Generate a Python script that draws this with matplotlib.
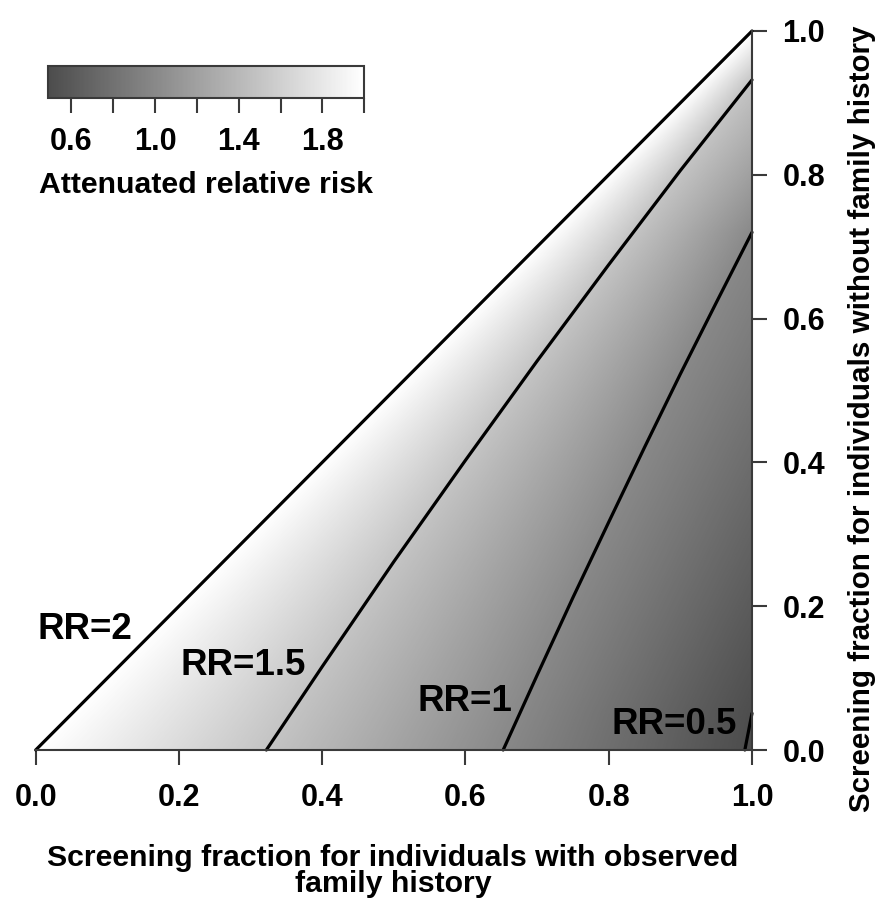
import numpy as np
import matplotlib
matplotlib.use('Agg')
import matplotlib.pyplot as plt
from matplotlib.colors import LinearSegmentedColormap, Normalize
from matplotlib.cm import ScalarMappable

plt.rcParams['font.family'] = ['Liberation Sans', 'DejaVu Sans']
plt.rcParams['font.weight'] = 'bold'

# contour lines (x = FH screening fraction, y = non-FH fraction)
rr2_x = [0.0, 1.0]
rr2_y = [0.0, 1.0]
rr15_x = [0.322, 0.40, 0.50, 0.60, 0.70, 0.80, 0.90, 1.0]
rr15_y = [0.0, 0.116, 0.262, 0.403, 0.541, 0.675, 0.806, 0.932]
rr1_x = [0.6526, 0.70, 0.75, 0.80, 0.85, 0.90, 0.95, 1.0]
rr1_y = [0.0, 0.104, 0.212, 0.317, 0.421, 0.523, 0.622, 0.72]
rr05_x = [0.99, 1.0]
rr05_y = [0.0, 0.051]

# attenuated RR along the right edge (x = 1)
edge_y = [0.0, 0.051, 0.72, 0.932, 1.0]
edge_rr = [0.49, 0.5, 1.0, 1.5, 2.0]

rr_min, rr_max = 0.49, 2.0
cbar_ticks = [0.6, 0.8, 1.0, 1.2, 1.4, 1.6, 1.8, 2.0]
cbar_labels = ['0.6', '', '1.0', '', '1.4', '', '1.8', '']
xticks = [0.0, 0.2, 0.4, 0.6, 0.8, 1.0]
yticks = [0.0, 0.2, 0.4, 0.6, 0.8, 1.0]

labels = ['RR=2', 'RR=1.5', 'RR=1', 'RR=0.5']
label_x = [0.069, 0.289, 0.599, 0.891]
label_y = [0.167, 0.117, 0.067, 0.035]


def build_field(n=700):
    gx = np.linspace(0, 1, n)
    gy = np.linspace(0, 1, n)
    field = np.full((n, n), np.nan)
    curves = [(1.5, rr15_x, rr15_y), (1.0, rr1_x, rr1_y), (0.5, rr05_x, rr05_y)]
    for j, y in enumerate(gy):
        xs, vs = [y], [2.0]
        for lev, cx, cy in curves:
            if y <= cy[-1]:
                xc = np.interp(y, cy, cx)
                if y < xc < 1.0:
                    xs.append(xc)
                    vs.append(lev)
        xs.append(1.0)
        vs.append(np.interp(y, edge_y, edge_rr))
        row = np.interp(gx, xs, vs)
        row[gx < y] = np.nan
        field[j] = row
    return field


fig = plt.figure(figsize=(8.83, 9.08), dpi=100)
W, H = 883.0, 908.0
ax = fig.add_axes([35.7 / W, 1 - 750 / H, (752 - 35.7) / W, (750 - 31) / H])

cmap = LinearSegmentedColormap.from_list('grey', [(0.3, 0.3, 0.3), (1, 1, 1)])
norm = Normalize(rr_min, rr_max)

ax.imshow(build_field(), origin='lower', extent=[0, 1, 0, 1], cmap=cmap, norm=norm,
          interpolation='bilinear', aspect='auto')

for cx, cy in [(rr2_x, rr2_y), (rr15_x, rr15_y), (rr1_x, rr1_y), (rr05_x, rr05_y)]:
    ax.plot(cx, cy, color='black', linewidth=2.3, clip_on=False, solid_capstyle='round')

for t, lx, ly in zip(labels, label_x, label_y):
    ax.text(lx, ly, t, ha='center', va='center', fontsize=26.5)

ax.set_xlim(0, 1)
ax.set_ylim(0, 1)
ax.spines['top'].set_visible(False)
ax.spines['left'].set_visible(False)
for s in ['bottom', 'right']:
    ax.spines[s].set_color('#3a3a3a')
    ax.spines[s].set_linewidth(1.5)
ax.yaxis.tick_right()
ax.set_xticks(xticks)
ax.set_xticklabels(['%.1f' % v for v in xticks])
ax.set_yticks(yticks)
ax.set_yticklabels(['%.1f' % v for v in yticks])
ax.tick_params(axis='x', direction='out', length=11, width=1.5, color='#3a3a3a',
               labelsize=22, pad=13)
ax.tick_params(axis='y', direction='out', length=11, width=1.5, color='#3a3a3a',
               labelsize=22, pad=11)

# colour key
cax = fig.add_axes([48.3 / W, 1 - 97.7 / H, 316 / W, 31.4 / H])
cb = fig.colorbar(ScalarMappable(norm=norm, cmap=cmap), cax=cax,
                  orientation='horizontal', ticks=cbar_ticks)
cb.ax.set_xticklabels(cbar_labels)
cb.ax.tick_params(direction='out', length=11, width=1.5, color='#3a3a3a',
                  labelsize=22, pad=10)
cb.outline.set_linewidth(1.5)
cb.outline.set_edgecolor('#3a3a3a')
fig.text(206 / W, 1 - 185 / H, 'Attenuated relative risk', ha='center', va='center',
         fontsize=21.8)

fig.text(393 / W, 1 - 871 / H, 'Screening fraction for individuals with observed\nfamily history',
         ha='center', va='center', fontsize=21.8, linespacing=0.92)
fig.text(862 / W, 1 - 419 / H, 'Screening fraction for individuals without family history',
         ha='center', va='center', rotation=90, fontsize=21.3)

fig.savefig('out.png', dpi=100)
